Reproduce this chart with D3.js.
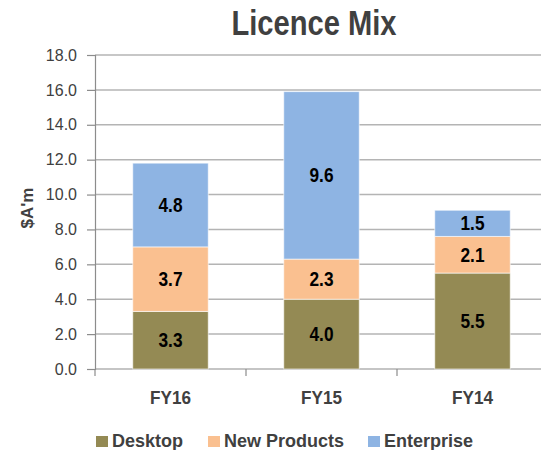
<!DOCTYPE html>
<html>
<head>
<meta charset="utf-8">
<script src="https://cdn.jsdelivr.net/npm/d3@7"></script>
<style>
  body { margin: 0; background: #fff; }
  svg { display: block; }
</style>
</head>
<body>
<div id="chart"></div>
<script>
// Chart data
var years = ["FY16", "FY15", "FY14"];
var seriesNames = ["Desktop", "New Products", "Enterprise"];
var desktop = [3.3, 4.0, 5.5];
var newProducts = [3.7, 2.3, 2.1];
var enterprise = [4.8, 9.6, 1.5];
var yTicks = [0, 2, 4, 6, 8, 10, 12, 14, 16, 18];

var colors = ["#948A54", "#FAC090", "#8EB4E3"];

var svgWidth = 541;
var svgHeight = 450;

var margin = { top: 55, right: -7, bottom: 81, left: 95 };
var width = svgWidth - margin.left - margin.right;
var height = svgHeight - margin.top - margin.bottom;

var svg = d3.select("#chart")
  .append("svg")
  .attr("width", svgWidth)
  .attr("height", svgHeight);

var chartGroup = svg.append("g")
  .attr("transform", `translate(${margin.left}, ${margin.top})`);

// build rows for the stack
var rows = years.map(function(y, i) {
  return { year: y, "Desktop": desktop[i], "New Products": newProducts[i], "Enterprise": enterprise[i] };
});
var stacked = d3.stack().keys(seriesNames)(rows);

var xScale = d3.scaleBand()
  .domain(years)
  .range([0, width]);

var yScale = d3.scaleLinear()
  .domain([0, 18])
  .range([height, 0]);

// gridlines
chartGroup.append("g")
  .selectAll("line")
  .data(yTicks.slice(1))
  .enter()
  .append("line")
  .attr("x1", 0)
  .attr("x2", width)
  .attr("y1", d => yScale(d))
  .attr("y2", d => yScale(d))
  .attr("stroke", "#b4b4b4")
  .attr("stroke-width", 1.5);

// left axis
var leftAxis = d3.axisLeft(yScale)
  .tickValues(yTicks)
  .tickSize(8)
  .tickPadding(10)
  .tickFormat(d3.format(".1f"));

var yAxisG = chartGroup.append("g").call(leftAxis);
yAxisG.select(".domain").attr("stroke", "#8c8c8c").attr("stroke-width", 1.2);
yAxisG.selectAll(".tick line").attr("stroke", "#8c8c8c").attr("stroke-width", 1.2);
yAxisG.selectAll(".tick text")
  .attr("font-family", "'Liberation Sans', Arial, sans-serif")
  .attr("font-size", "16px")
  .attr("fill", "#404040");

// bottom axis: ticks on band boundaries
var bottomG = chartGroup.append("g")
  .attr("transform", `translate(0, ${height})`);
bottomG.append("line")
  .attr("x1", 0).attr("x2", width)
  .attr("stroke", "#8c8c8c").attr("stroke-width", 1.2);
bottomG.selectAll(".bt")
  .data(years)
  .enter()
  .append("line")
  .attr("class", "bt")
  .attr("x1", d => xScale(d))
  .attr("x2", d => xScale(d))
  .attr("y1", 0).attr("y2", 7)
  .attr("stroke", "#8c8c8c").attr("stroke-width", 1.2);
bottomG.selectAll(".xl")
  .data(years)
  .enter()
  .append("text")
  .attr("class", "xl")
  .attr("x", d => xScale(d) + xScale.bandwidth() / 2)
  .attr("y", 35)
  .attr("text-anchor", "middle")
  .attr("font-family", "'Liberation Sans', Arial, sans-serif")
  .attr("font-weight", "bold")
  .attr("font-size", "19px")
  .attr("textLength", 41)
  .attr("lengthAdjust", "spacingAndGlyphs")
  .attr("fill", "#404040")
  .text(d => d);

// bars
var barWidth = xScale.bandwidth() * 0.5;
var layers = chartGroup.append("g")
  .selectAll("g")
  .data(stacked)
  .enter()
  .append("g")
  .attr("fill", (d, i) => colors[i]);

layers.selectAll("rect")
  .data(d => d)
  .enter()
  .append("rect")
  .attr("x", d => xScale(d.data.year) + (xScale.bandwidth() - barWidth) / 2)
  .attr("y", d => yScale(d[1]))
  .attr("width", barWidth)
  .attr("height", d => yScale(d[0]) - yScale(d[1]))
  .attr("stroke", "#ffffff")
  .attr("stroke-opacity", 0.6)
  .attr("stroke-width", 1);

// value labels
layers.selectAll("text")
  .data(d => d)
  .enter()
  .append("text")
  .attr("x", d => xScale(d.data.year) + xScale.bandwidth() / 2)
  .attr("y", d => (yScale(d[0]) + yScale(d[1])) / 2 + 7)
  .attr("text-anchor", "middle")
  .attr("font-family", "'Liberation Sans', Arial, sans-serif")
  .attr("font-weight", "bold")
  .attr("font-size", "19.5px")
  .attr("textLength", 24)
  .attr("lengthAdjust", "spacingAndGlyphs")
  .attr("fill", "#000")
  .text(d => (d[1] - d[0]).toFixed(1));

// title
svg.append("text")
  .attr("x", 314)
  .attr("y", 35)
  .attr("text-anchor", "middle")
  .attr("font-family", "'Liberation Sans', Arial, sans-serif")
  .attr("font-weight", "bold")
  .attr("font-size", "35px")
  .attr("textLength", 165)
  .attr("lengthAdjust", "spacingAndGlyphs")
  .attr("fill", "#404040")
  .text("Licence Mix");

// y axis title
svg.append("text")
  .attr("transform", "translate(33, 208) rotate(-90)")
  .attr("text-anchor", "middle")
  .attr("font-family", "'Liberation Sans', Arial, sans-serif")
  .attr("font-weight", "bold")
  .attr("font-size", "17px")
  .attr("fill", "#404040")
  .text("$A'm");

// legend
var legendX = [96, 208, 368];
var legend = svg.append("g")
  .selectAll("g")
  .data(seriesNames)
  .enter()
  .append("g")
  .attr("transform", (d, i) => `translate(${legendX[i]}, 436)`);

legend.append("rect")
  .attr("width", 12)
  .attr("height", 11)
  .attr("fill", (d, i) => colors[i]);

legend.append("text")
  .attr("x", 16)
  .attr("y", 10.5)
  .attr("font-family", "'Liberation Sans', Arial, sans-serif")
  .attr("font-weight", "bold")
  .attr("font-size", "18px")
  .attr("fill", "#404040")
  .text(d => d);
</script>
</body>
</html>
